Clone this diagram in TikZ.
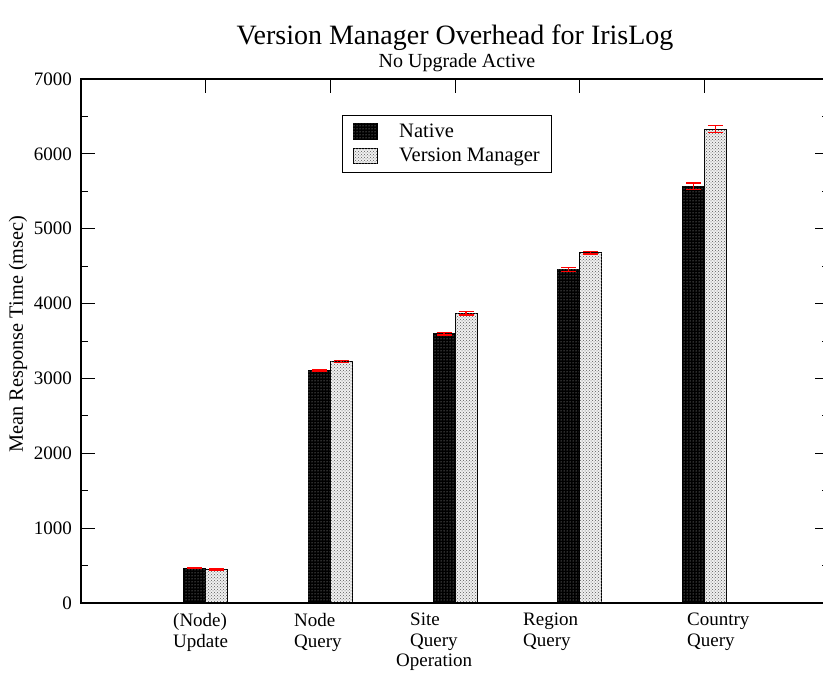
\documentclass[tikz,border=0pt]{standalone}
\usepackage{fontspec}
\setmainfont{Liberation Serif}
\usetikzlibrary{patterns}
\usetikzlibrary{positioning}
\usetikzlibrary{calc}
\tikzset{
  frame/.style={line width=1.4pt},
  tickmark/.style={line width=0.9pt},
  native/.style={draw=black, line width=1pt, fill=black, postaction={pattern=dots, pattern color=black!25}},
  vmbar/.style={draw=black, line width=1pt, fill=black!6, postaction={pattern=crosshatch dots, pattern color=black!65}},
  errbar/.style={red, line width=1.3pt},
  labeltext/.style={inner sep=0pt, font=\fontsize{19}{21}\selectfont},
  legendtext/.style={inner sep=0pt, font=\fontsize{20.5}{24}\selectfont}
}

\begin{document}
\begin{tikzpicture}[x=1pt, y=1pt]
\useasboundingbox (0,0) rectangle (823,675);
\clip (0,0) rectangle (823,675);

% titles
\node[inner sep=0pt, anchor=base, font=\fontsize{28}{32}\selectfont] (title) at (455,630) {Version Manager Overhead for IrisLog};
\node[inner sep=0pt, anchor=base, font=\fontsize{20}{24}\selectfont] (subtitle) at (457,607) {No Upgrade Active};

%%%Plot area
\begin{scope}[shift={(81,72)}, x=124.7pt, y=0.07486pt]
\coordinate (O) at (0,0);
\coordinate (TR) at (6,7000);

% ticks
\foreach \v in {0,1000,...,7000} {
  \draw[tickmark] (0,\v) -- ++(14pt,0);
  \draw[tickmark] (6,\v) -- ++(-14pt,0);
  \node[labeltext, anchor=east] (ytick\v) at ($(0,\v)+(-9pt,0)$) {\v};
}
\foreach \v in {500,1500,...,6500} {
  \draw[tickmark] (0,\v) -- ++(7pt,0);
  \draw[tickmark] (6,\v) -- ++(-7pt,0);
}
\foreach \i in {1,...,5} {
  \draw[tickmark] (\i,7000) -- ++(0,-14pt);
  \draw[tickmark] (\i,0) -- ++(0,14pt);
}

% bars
\foreach \i/\nv/\ne/\vv/\ve in {1/465/8/450/8, 2/3100/12/3225/14, 3/3595/16/3870/22, 4/4455/30/4680/20, 5/5565/45/6330/48} {
  \draw[native] (\i-0.176,0) rectangle (\i,\nv);
  \draw[vmbar] (\i,0) rectangle (\i+0.176,\vv);
  \draw[errbar] (\i-0.088,\nv-\ne) -- (\i-0.088,\nv+\ne);
  \draw[errbar] (\i-0.148,\nv-\ne) -- (\i-0.028,\nv-\ne);
  \draw[errbar] (\i-0.148,\nv+\ne) -- (\i-0.028,\nv+\ne);
  \draw[errbar] (\i+0.088,\vv-\ve) -- (\i+0.088,\vv+\ve);
  \draw[errbar] (\i+0.028,\vv-\ve) -- (\i+0.148,\vv-\ve);
  \draw[errbar] (\i+0.028,\vv+\ve) -- (\i+0.148,\vv+\ve);
}

\draw[frame] (O) rectangle (TR);
\end{scope}

% axis labels
\node[inner sep=0pt, font=\fontsize{20.3}{24}\selectfont, rotate=90] (ylabel) at (18,341) {Mean Response Time (msec)};
\node[labeltext, anchor=base west] (xlabel) at (396,8) {Operation};

% category labels
\node[labeltext, anchor=north west, align=left] (update) at (173,62) {(Node)\\Update};
\node[labeltext, anchor=north west, align=left] (nodeq) at (294,62) {Node\\Query};
\node[labeltext, anchor=north west, align=left] (siteq) at (410,62) {Site\\Query};
\node[labeltext, anchor=north west, align=left] (regionq) at (523,62) {Region\\Query};
\node[labeltext, anchor=north west, align=left] (countryq) at (687,62) {Country\\Query};

% legend
\draw[line width=1pt] (342.7,502) rectangle (551.7,559);
\draw[native] (353,535) rectangle (377,551);
\draw[vmbar] (353,511) rectangle (377,526);
\node[legendtext, anchor=base west] (lnative) at (399,537) {Native};
\node[legendtext, anchor=base west] (lvm) at (399,513) {Version Manager};

\end{tikzpicture}
\end{document}
